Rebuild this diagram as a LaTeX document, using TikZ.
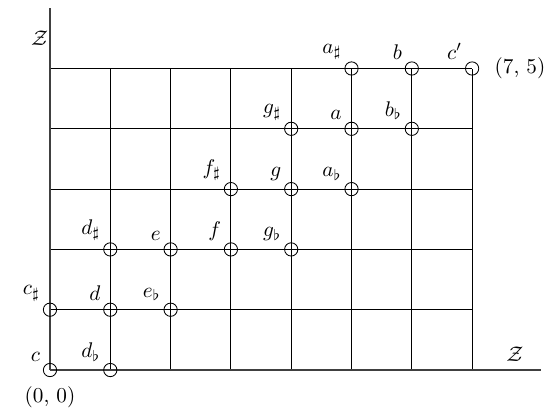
\documentclass[tikz,border=0pt]{standalone}
\usepackage{amsmath,amssymb}
\usetikzlibrary{positioning}
\tikzset{%
	% Specifications for the lattice:
	pitch/.style = {circle, draw=black, inner sep=0pt, minimum size=0.22cm},
	gridline/.style = {draw=black, line width=0.45pt},
	axis/.style = {draw=black!75, line width=0.6pt},
	coord/.style = {inner sep=2pt, font=\normalsize}
}
\begin{document}
\begin{tikzpicture}
		\useasboundingbox (-0.829,-0.813) rectangle (8.308,6.136);
		\coordinate (O) at (0,0);
		\coordinate (xEnd) at (8.14,0);
		\coordinate (yEnd) at (0,6);
		\foreach \i in {1,...,7}
			\draw[gridline] (\i,0) -- (\i,5);
		\foreach \j in {1,...,5}
			\draw[gridline] (0,\j) -- (7,\j);
		\draw[axis] (O) -- (xEnd);
		\draw[axis] (O) -- (yEnd);
		\node (zTop) at (-0.17,5.5) {$\mathcal{Z}$};
		\node (zRight) at (7.71,0.26) {$\mathcal{Z}$};
		\foreach \name/\x/\y/\lab in {c/0/0/c, dflat/1/0/d_\flat, csharp/0/1/c_\sharp, d/1/1/d,
			eflat/2/1/e_\flat, dsharp/1/2/d_\sharp, e/2/2/e, f/3/2/f, gflat/4/2/g_\flat,
			fsharp/3/3/f_\sharp, g/4/3/g, aflat/5/3/a_\flat, gsharp/4/4/g_\sharp, a/5/4/a,
			bflat/6/4/b_\flat, asharp/5/5/a_\sharp, b/6/5/b, cprime/7/5/c'}
			\node (\name) [pitch, label={[label distance=-2pt]152:$\lab$}] at (\x,\y) {};
		\node (origin) [coord, below=0.08cm of c] {(0, 0)};
		\node (corner) [coord, right=0.18cm of cprime] {(7, 5)};
	\end{tikzpicture}
\end{document}
